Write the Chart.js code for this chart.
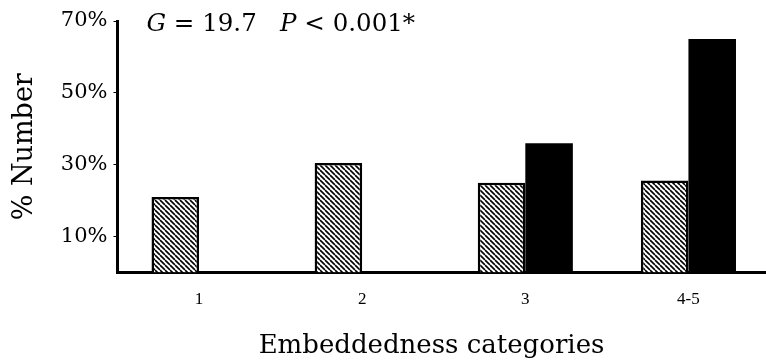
<!DOCTYPE html>
<html>
<head>
<meta charset="utf-8">
<title>Embeddedness</title>
<script src="https://cdn.jsdelivr.net/npm/chart.js@4.4.1/dist/chart.umd.min.js"></script>
<style>
    html, body { margin: 0; padding: 0; background: #fff; overflow: hidden; }
    #wrap { width: 770px; height: 361px; }
</style>
</head>
<body>
<div id="wrap"><canvas id="embChart"></canvas></div>
<script>

let categories = ['1', '2', '3', '4-5'];
let hatchedValues = [21, 30.5, 25, 25.6];
let solidValues = [null, null, 36, 65];
let yTicks = [10, 30, 50, 70];
let xTitle = 'Embeddedness categories';

// diagonal hatch fill for the first series
function makeHatch() {
    let s = 5;
    let tile = document.createElement('canvas');
    tile.width = s;
    tile.height = s;
    let c = tile.getContext('2d');
    c.fillStyle = '#fff';
    c.fillRect(0, 0, s, s);
    c.strokeStyle = '#000';
    c.lineWidth = 1.6;
    for (let k = -1; k <= 1; k++) {
        c.beginPath();
        c.moveTo(k * s, 0);
        c.lineTo(k * s + s, s);
        c.stroke();
    }
    return c.createPattern(tile, 'repeat');
}

// statistic above the bars (italic G and P) and the x axis caption,
// which sits a little left of the plot centre
let extraText = {
    id: 'extraText',
    afterDraw: function (chart) {
        let ctx = chart.ctx;
        let area = chart.chartArea;
        let parts = [
            { t: 'G', it: true },
            { t: ' = 19.7   ', it: false },
            { t: 'P', it: true },
            { t: ' < 0.001*', it: false }
        ];
        let x = area.left + 29;
        ctx.save();
        ctx.fillStyle = '#000';
        ctx.textBaseline = 'alphabetic';
        ctx.textAlign = 'left';
        parts.forEach(function (p) {
            ctx.font = (p.it ? 'italic ' : '') + '24.5px "DejaVu Serif"';
            ctx.fillText(p.t, x, 31);
            x += ctx.measureText(p.t).width;
        });

        ctx.textAlign = 'center';
        ctx.textBaseline = 'middle';
        ctx.font = '26px "DejaVu Serif"';
        ctx.fillText(xTitle, area.left + 314, area.bottom + 74);
        ctx.restore();
    }
};

let ctx = document.getElementById('embChart').getContext('2d');

let barChart = new Chart(ctx, {
    type: 'bar',
    data: {
        labels: categories,
        datasets: [{
            label: 'hatched',
            data: hatchedValues,
            backgroundColor: makeHatch(),
            borderColor: '#000',
            borderWidth: 2.5,
            borderSkipped: 'bottom'
        }, {
            label: 'solid',
            data: solidValues,
            backgroundColor: '#000',
            borderWidth: 0
        }]
    },
    options: {
        responsive: true,
        maintainAspectRatio: false,
        animation: false,
        layout: {
            padding: { top: 21, right: 0, bottom: 0, left: 0 }
        },
        datasets: {
            bar: {
                categoryPercentage: 0.583,
                barPercentage: 1
            }
        },
        plugins: {
            legend: { display: false },
            tooltip: { enabled: false }
        },
        scales: {
            x: {
                grid: { display: false, drawTicks: false },
                border: { color: '#000', width: 3 },
                ticks: {
                    color: '#000',
                    padding: 17,
                    font: { family: 'Liberation Serif', size: 17 }
                },
                afterFit: function (scale) {
                    scale.height = 88.5;
                }
            },
            y: {
                min: 0,
                max: 70,
                afterBuildTicks: function (scale) {
                    scale.ticks = yTicks.map(function (v) { return { value: v }; });
                },
                grid: {
                    drawOnChartArea: false,
                    drawTicks: true,
                    tickLength: 4,
                    color: '#000'
                },
                border: { color: '#000', width: 3 },
                ticks: {
                    color: '#000',
                    padding: 6,
                    font: { family: 'DejaVu Serif', size: 21 },
                    callback: function (v) { return v + '%'; }
                },
                title: {
                    display: true,
                    text: '% Number',
                    color: '#000',
                    font: { family: 'DejaVu Serif', size: 27 },
                    padding: { top: 9, bottom: 0 }
                },
                afterFit: function (scale) {
                    scale.width = 117.5;
                }
            }
        }
    },
    plugins: [extraText]
});

</script>
</body>
</html>
